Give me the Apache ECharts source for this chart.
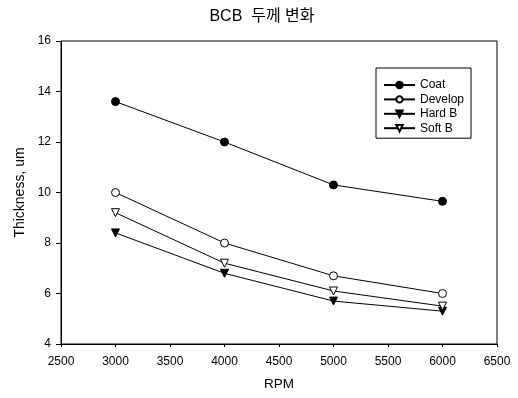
<!DOCTYPE html>
<html>
<head>
<meta charset="utf-8">
<script src="https://cdn.jsdelivr.net/npm/echarts@6/dist/echarts.min.js"></script>
<style>html,body{margin:0;padding:0;background:#fff}#c{width:518px;height:398px}</style>
</head>
<body>
<div id="c"></div>
<script>
var rpm = [3000, 4000, 5000, 6000];
var coat = [13.6, 12.0, 10.3, 9.65];
var develop = [10.0, 8.0, 6.7, 6.0];
var hardB = [8.4, 6.8, 5.7, 5.3];
var softB = [9.2, 7.2, 6.1, 5.5];
var seriesNames = ['Coat', 'Develop', 'Hard B', 'Soft B'];

function pairs(v){ return rpm.map(function(x,i){ return [x, v[i]]; }); }
var font = '"Liberation Sans", Arial, sans-serif';
function mk(name, data, symbol, filled, rot){
  return {
    name: name, type: 'line', data: pairs(data),
    symbol: symbol, symbolSize: 8, symbolRotate: rot || 0,
    lineStyle: {color: '#000', width: 1},
    itemStyle: {color: filled ? '#000' : '#fff', borderColor: '#000', borderWidth: 1},
    emphasis: {disabled: true}, animation: false
  };
}
var chart = echarts.init(document.getElementById('c'));
chart.setOption({
  backgroundColor: '#fff',
  animation: false,
  title: {text: 'BCB  두께 변화', left: 257, top: 4, textAlign: 'center',
    textStyle: {fontFamily: '"Liberation Sans", "Noto Sans CJK KR", sans-serif', fontSize: 16, fontWeight: 'normal', color: '#000'}},
  grid: {left: 61, right: 21, top: 41, bottom: 54, show: true, borderColor: '#000', borderWidth: 1, backgroundColor: 'transparent'},
  legend: {
    orient: 'vertical', left: 376, top: 68, data: seriesNames,
    itemWidth: 31, itemHeight: 8, itemGap: 2.4, padding: [11, 7, 4, 7],
    borderColor: '#000', borderWidth: 1, backgroundColor: '#fff',
    textStyle: {fontFamily: font, fontSize: 12, color: '#000'}
  },
  xAxis: {
    type: 'value', min: 2500, max: 6500, interval: 500,
    name: 'RPM', nameLocation: 'middle', nameGap: 33,
    nameTextStyle: {fontFamily: font, fontSize: 13.5, color: '#000'},
    axisLine: {show: true, lineStyle: {color: '#000'}},
    axisTick: {show: true, length: 3, lineStyle: {color: '#000'}},
    axisLabel: {fontFamily: font, fontSize: 12, color: '#000', margin: 12,
      formatter: function(v){ return String(v); }},
    splitLine: {show: false}
  },
  yAxis: {
    type: 'value', min: 4, max: 16, interval: 2,
    name: 'Thickness, um', nameLocation: 'middle', nameGap: 33,
    nameTextStyle: {fontFamily: font, fontSize: 14, color: '#000'},
    axisLine: {show: true, lineStyle: {color: '#000'}},
    axisTick: {show: true, length: 5, lineStyle: {color: '#000'}},
    axisLabel: {fontFamily: font, fontSize: 12, color: '#000', margin: 10},
    splitLine: {show: false}
  },
  series: [
    mk('Coat', coat, 'circle', true),
    mk('Develop', develop, 'circle', false),
    mk('Hard B', hardB, 'triangle', true, 180),
    mk('Soft B', softB, 'triangle', false, 180)
  ]
});
</script>
</body>
</html>
